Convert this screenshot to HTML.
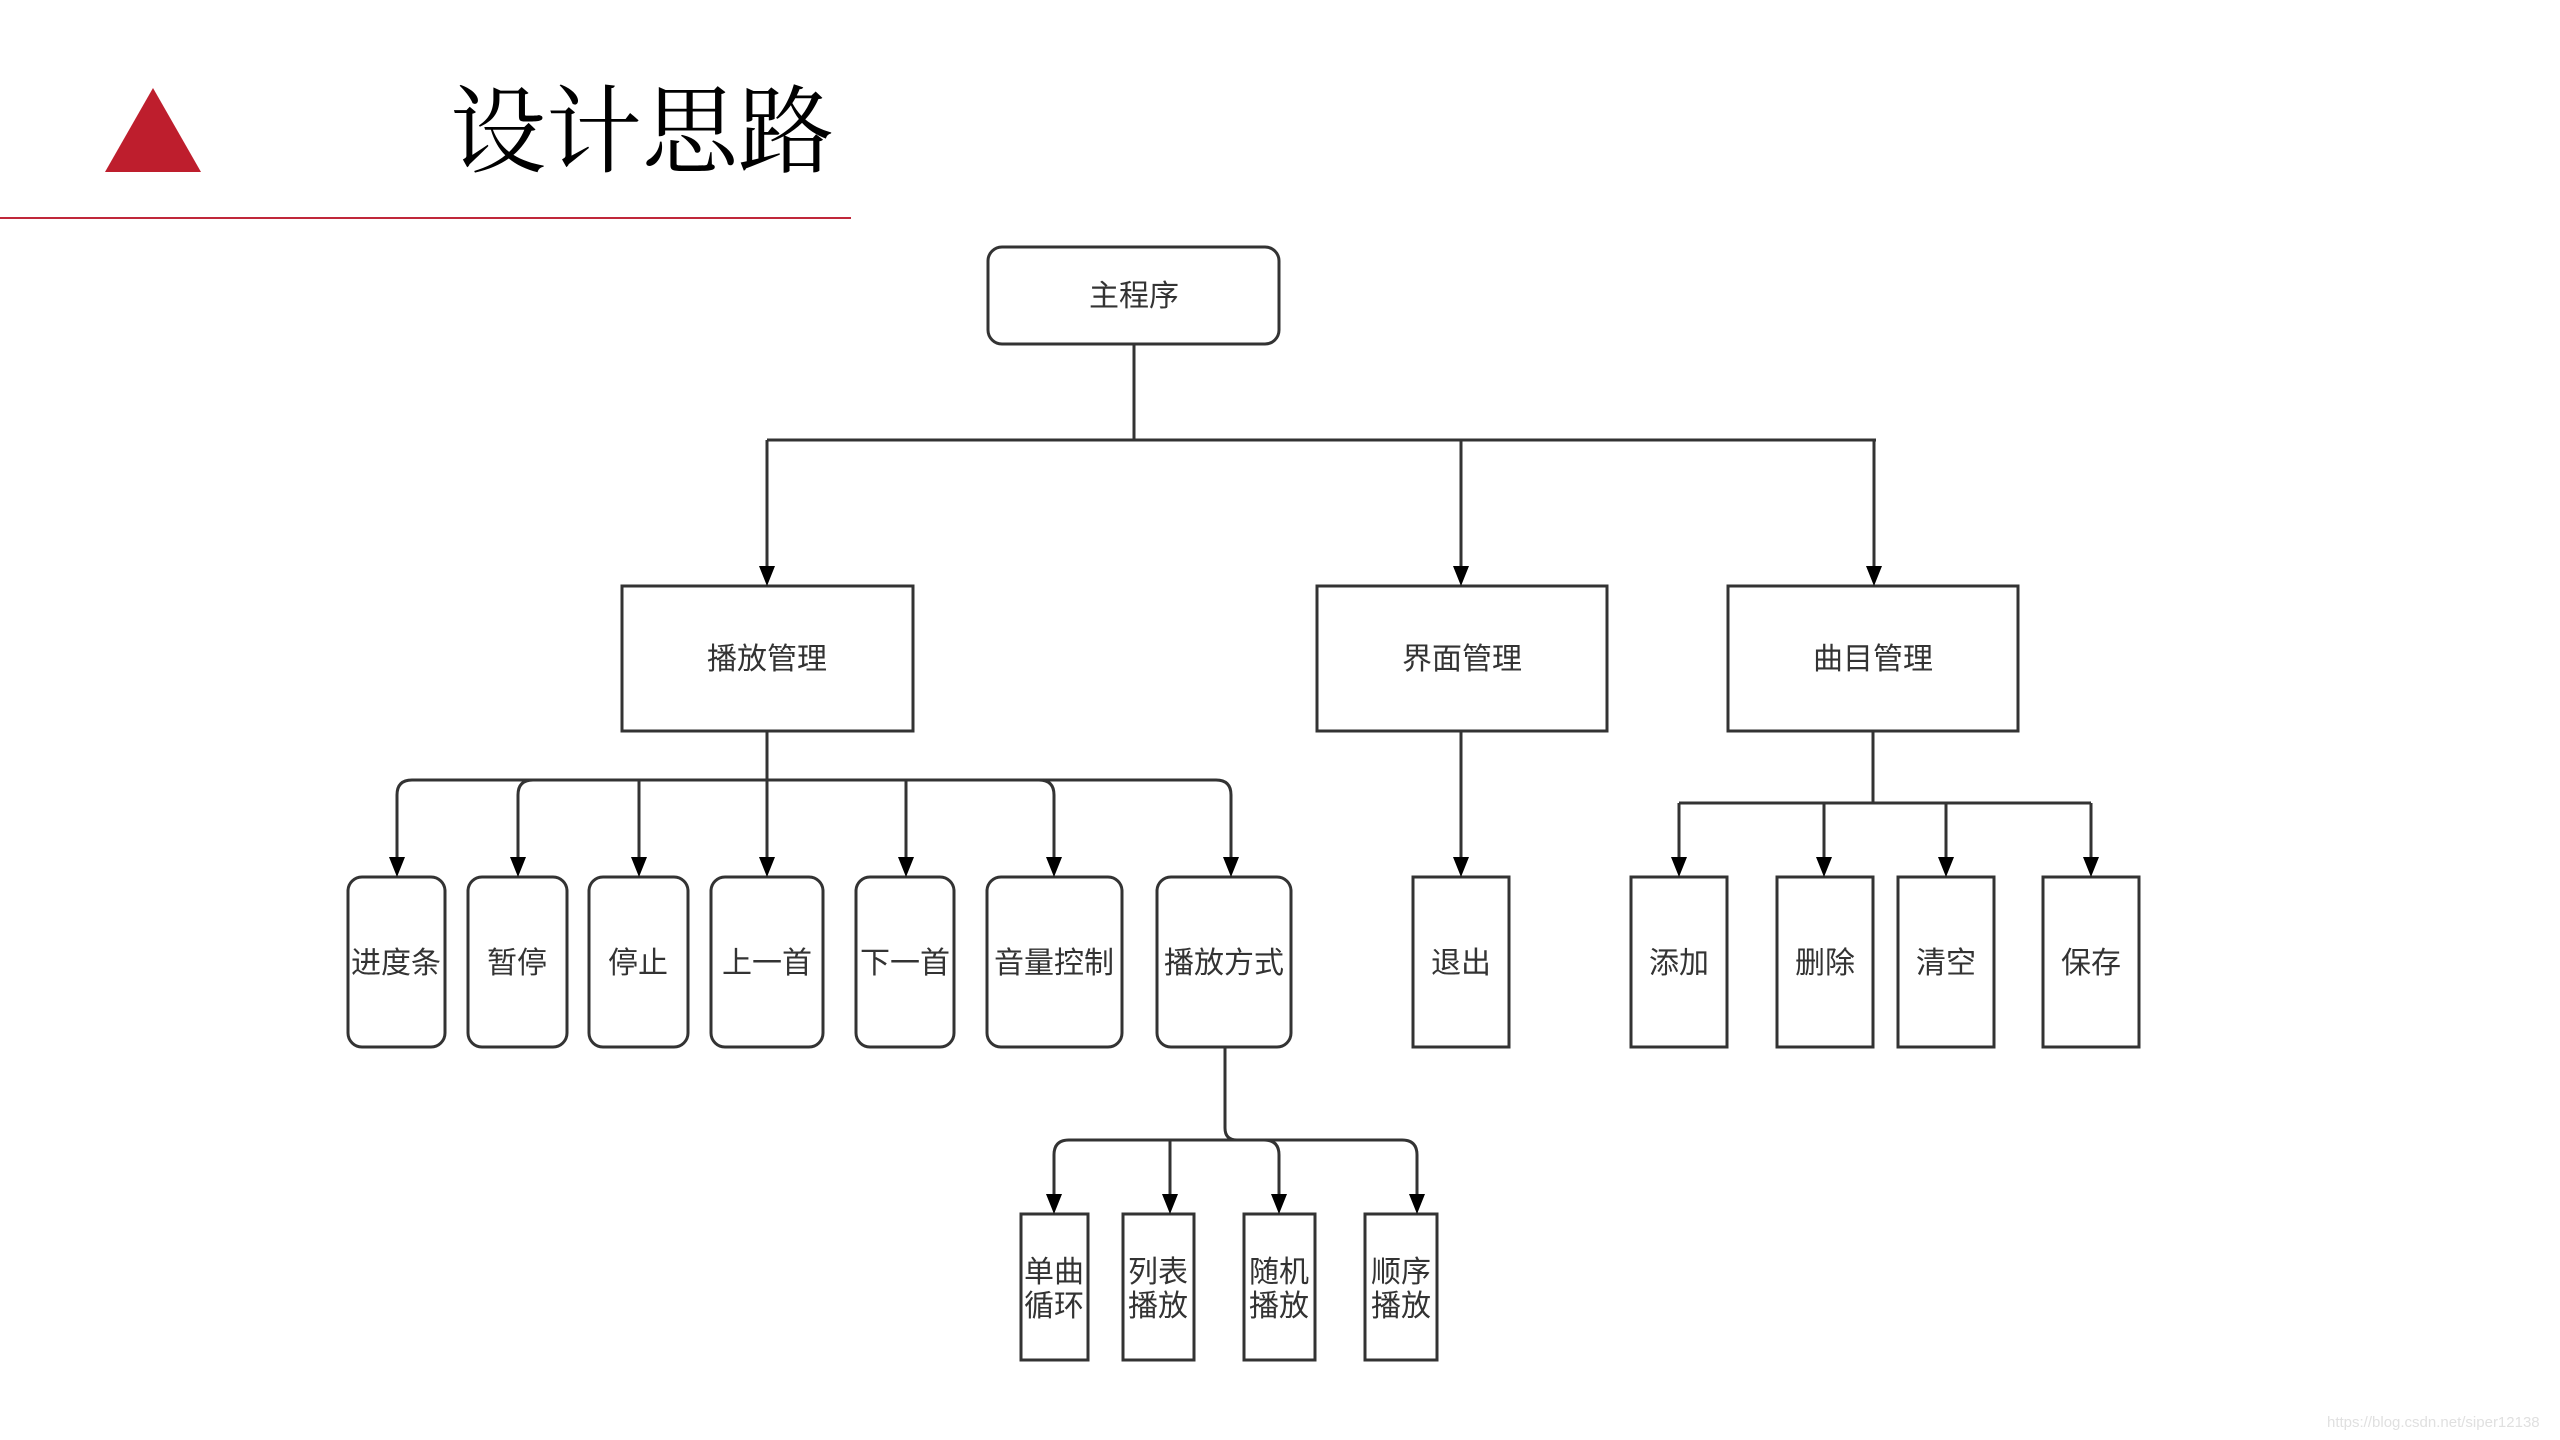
<!DOCTYPE html>
<html><head><meta charset="utf-8"><style>
html,body{margin:0;padding:0;background:#fff;}
svg{display:block;}
</style></head><body>
<svg width="2560" height="1440" viewBox="0 0 2560 1440" xmlns="http://www.w3.org/2000/svg">
<polygon points="105,172 201,172 153,88" fill="#be1e2d"/>
<text x="450" y="165" font-family="'Noto Serif CJK SC','Liberation Serif',serif" font-size="96" font-weight="normal" fill="#000">设计思路</text>
<line x1="0" y1="218" x2="851" y2="218" stroke="#c0283a" stroke-width="2"/>

<g fill="none" stroke="#333" stroke-width="3">
<rect x="988" y="247" width="291" height="97" rx="14"/>
<line x1="1134" y1="344" x2="1134" y2="440"/>
<line x1="767" y1="440" x2="1876" y2="440"/>
<line x1="767" y1="440" x2="767" y2="576"/>
<line x1="1461" y1="440" x2="1461" y2="576"/>
<line x1="1874" y1="440" x2="1874" y2="576"/>
<rect x="622" y="586" width="291" height="145"/>
<rect x="1317" y="586" width="290" height="145"/>
<rect x="1728" y="586" width="290" height="145"/>

<line x1="767" y1="731" x2="767" y2="866"/>
<path d="M397 866 V795 Q397 780 412 780 H1216 Q1231 780 1231 795 V866"/>
<path d="M518 866 V795 Q518 780 533 780"/>
<path d="M1054 866 V795 Q1054 780 1039 780"/>
<line x1="639" y1="780" x2="639" y2="866"/>
<line x1="906" y1="780" x2="906" y2="866"/>
<line x1="1461" y1="731" x2="1461" y2="866"/>
<line x1="1873" y1="731" x2="1873" y2="803"/>
<line x1="1679" y1="803" x2="2091" y2="803"/>
<line x1="1679" y1="803" x2="1679" y2="866"/>
<line x1="1824" y1="803" x2="1824" y2="866"/>
<line x1="1946" y1="803" x2="1946" y2="866"/>
<line x1="2091" y1="803" x2="2091" y2="866"/>

<rect x="348" y="877" width="97" height="170" rx="14"/>
<rect x="468" y="877" width="99" height="170" rx="14"/>
<rect x="589" y="877" width="99" height="170" rx="14"/>
<rect x="711" y="877" width="112" height="170" rx="14"/>
<rect x="856" y="877" width="98" height="170" rx="14"/>
<rect x="987" y="877" width="135" height="170" rx="14"/>
<rect x="1157" y="877" width="134" height="170" rx="14"/>
<rect x="1413" y="877" width="96" height="170"/>
<rect x="1631" y="877" width="96" height="170"/>
<rect x="1777" y="877" width="96" height="170"/>
<rect x="1898" y="877" width="96" height="170"/>
<rect x="2043" y="877" width="96" height="170"/>

<path d="M1225 1047 V1128 Q1225 1140 1237 1140"/>
<path d="M1054 1202 V1155 Q1054 1140 1069 1140 H1402 Q1417 1140 1417 1155 V1202"/>
<line x1="1170" y1="1140" x2="1170" y2="1202"/>
<path d="M1279 1202 V1155 Q1279 1140 1264 1140"/>
<rect x="1021" y="1214" width="67" height="146"/>
<rect x="1123" y="1214" width="71" height="146"/>
<rect x="1244" y="1214" width="71" height="146"/>
<rect x="1365" y="1214" width="72" height="146"/>
</g>

<g fill="#000">
<polygon points="759,566 775,566 767,586"/>
<polygon points="1453,566 1469,566 1461,586"/>
<polygon points="1866,566 1882,566 1874,586"/>
<polygon points="389,857 405,857 397,877"/>
<polygon points="510,857 526,857 518,877"/>
<polygon points="631,857 647,857 639,877"/>
<polygon points="759,857 775,857 767,877"/>
<polygon points="898,857 914,857 906,877"/>
<polygon points="1046,857 1062,857 1054,877"/>
<polygon points="1223,857 1239,857 1231,877"/>
<polygon points="1453,857 1469,857 1461,877"/>
<polygon points="1671,857 1687,857 1679,877"/>
<polygon points="1816,857 1832,857 1824,877"/>
<polygon points="1938,857 1954,857 1946,877"/>
<polygon points="2083,857 2099,857 2091,877"/>
<polygon points="1046,1194 1062,1194 1054,1214"/>
<polygon points="1162,1194 1178,1194 1170,1214"/>
<polygon points="1271,1194 1287,1194 1279,1214"/>
<polygon points="1409,1194 1425,1194 1417,1214"/>
</g>

<g font-family="'Liberation Sans','Noto Sans CJK SC',sans-serif" font-size="30" fill="#333" text-anchor="middle">
<text x="1134" y="306">主程序</text>
<text x="767" y="669">播放管理</text>
<text x="1462" y="669">界面管理</text>
<text x="1873" y="669">曲目管理</text>
<text x="396" y="973">进度条</text>
<text x="517" y="973">暂停</text>
<text x="638" y="973">停止</text>
<text x="767" y="973">上一首</text>
<text x="905" y="973">下一首</text>
<text x="1054" y="973">音量控制</text>
<text x="1224" y="973">播放方式</text>
<text x="1461" y="973">退出</text>
<text x="1679" y="973">添加</text>
<text x="1825" y="973">删除</text>
<text x="1946" y="973">清空</text>
<text x="2091" y="973">保存</text>
<text x="1054" y="1282">单曲</text><text x="1054" y="1316">循环</text>
<text x="1158" y="1282">列表</text><text x="1158" y="1316">播放</text>
<text x="1279" y="1282">随机</text><text x="1279" y="1316">播放</text>
<text x="1401" y="1282">顺序</text><text x="1401" y="1316">播放</text>
</g>
<text x="2327" y="1427" font-family="'Liberation Sans',sans-serif" font-size="15" fill="#e0e0e0">https://blog.csdn.net/siper12138</text>
</svg>
</body></html>
